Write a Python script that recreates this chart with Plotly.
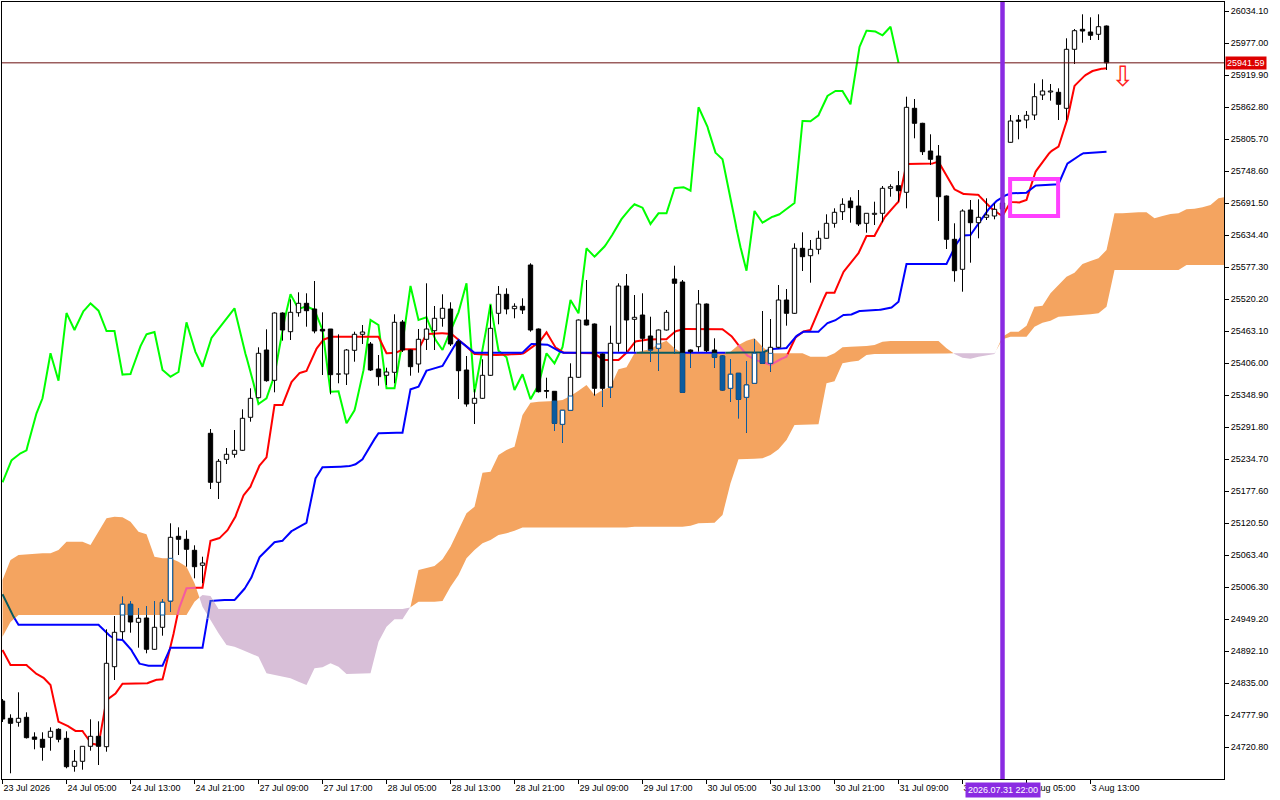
import numpy as np
import plotly.graph_objects as go

# ---- H1 candles (prices) ----
opens = [
    24802.88, 24772.01, 24764.88, 24773.80, 24738.65, 24734.54, 24738.11, 24752.39, 24736.33, 24686.36,
    24695.29, 24722.05, 24739.89, 24721.34, 24864.09, 24926.54, 24975.43, 24943.31, 24950.99, 24895.14,
    24934.39, 24981.32, 25096.77, 25091.42, 25071.79, 25045.02, 25280.56, 25193.13, 25234.17, 25243.09,
    25250.23, 25309.11, 25344.08, 25429.20, 25375.13, 25495.22, 25461.85, 25495.76, 25512.53, 25502.36,
    25466.14, 25466.67, 25387.62, 25386.37, 25428.66, 25457.21, 25439.90, 25395.30, 25384.05, 25389.41,
    25479.16, 25429.20, 25404.22, 25448.29, 25463.64, 25485.76, 25502.36, 25444.01, 25393.51, 25334.09,
    25343.01, 25384.05, 25494.69, 25528.59, 25502.89, 25507.18, 25580.87, 25466.67, 25356.93, 25355.50,
    25296.62, 25321.60, 25380.49, 25482.73, 25475.59, 25422.06, 25362.64, 25441.15, 25543.40, 25483.98,
    25491.65, 25454.18, 25432.23, 25464.89, 25555.89, 25550.54, 25429.20, 25435.09, 25511.28, 25429.20,
    25418.49, 25360.86, 25387.62, 25344.80, 25369.78, 25424.38, 25405.47, 25434.02, 25518.42, 25494.69,
    25610.67, 25597.46, 25608.88, 25628.51, 25655.28, 25675.98, 25695.07, 25686.15, 25655.28, 25671.34,
    25673.12, 25717.73, 25722.37, 25710.59, 25860.48, 25833.72, 25784.29, 25775.37, 25703.99, 25626.73,
    25573.20, 25679.01, 25656.35, 25665.99, 25668.30, 25680.80, 25799.81, 25839.60, 25839.60, 25848.53,
    25884.21, 25889.57, 25889.03, 25860.48, 25965.76, 26001.45, 25996.63, 25992.53, 26007.34]
highs = [
    24806.45, 24779.15, 24818.41, 24782.72, 24747.03, 24747.03, 24755.95, 24754.17, 24748.82, 24715.45,
    24722.05, 24770.23, 24766.66, 24930.82, 24954.55, 24988.99, 24981.32, 24968.83, 24972.40, 24981.32,
    24984.89, 25119.97, 25112.83, 25107.48, 25080.71, 25060.37, 25288.23, 25234.70, 25254.33, 25286.45,
    25323.37, 25360.86, 25434.02, 25466.14, 25496.47, 25496.47, 25519.67, 25532.16, 25530.37, 25552.32,
    25496.47, 25466.67, 25457.21, 25430.98, 25461.85, 25473.81, 25443.47, 25420.28, 25397.62, 25492.90,
    25482.73, 25430.09, 25466.67, 25548.22, 25507.71, 25528.59, 25514.31, 25447.04, 25418.49, 25359.07,
    25412.60, 25509.50, 25543.40, 25539.29, 25512.53, 25521.45, 25583.90, 25467.56, 25379.77, 25356.04,
    25322.14, 25405.47, 25483.62, 25554.10, 25476.48, 25422.95, 25472.56, 25548.22, 25564.81, 25527.34,
    25530.37, 25488.62, 25465.78, 25500.57, 25579.62, 25554.10, 25430.09, 25536.26, 25512.17, 25450.08,
    25419.38, 25413.14, 25388.16, 25409.57, 25448.29, 25498.79, 25484.51, 25545.18, 25538.05, 25619.59,
    25639.22, 25625.48, 25642.08, 25671.34, 25682.05, 25699.89, 25701.67, 25714.70, 25673.66, 25693.82,
    25721.84, 25724.87, 25748.60, 25881.18, 25877.08, 25834.61, 25814.09, 25795.00, 25704.88, 25655.28,
    25680.26, 25696.86, 25698.10, 25699.89, 25690.97, 25700.42, 25848.53, 25848.53, 25855.66, 25905.09,
    25912.23, 25903.84, 25896.17, 25985.39, 26001.98, 26028.21, 26022.86, 26028.21, 26008.23]
lows = [
    24765.41, 24673.87, 24757.02, 24735.97, 24716.70, 24696.35, 24714.20, 24729.19, 24682.80, 24676.73,
    24680.30, 24714.20, 24688.68, 24712.42, 24840.35, 24912.98, 24924.76, 24897.99, 24888.00, 24893.89,
    24919.40, 24962.23, 25063.40, 25042.52, 25021.83, 25012.90, 25181.17, 25163.33, 25225.78, 25237.02,
    25248.98, 25301.26, 25342.66, 25372.63, 25353.72, 25445.79, 25447.04, 25488.62, 25470.78, 25459.00,
    25384.59, 25350.15, 25369.78, 25366.75, 25408.32, 25439.90, 25391.73, 25365.50, 25366.75, 25369.78,
    25425.63, 25383.34, 25388.69, 25429.20, 25429.20, 25470.78, 25436.34, 25341.76, 25328.02, 25297.15,
    25341.76, 25382.80, 25475.06, 25492.90, 25485.76, 25493.44, 25461.85, 25353.36, 25343.01, 25284.66,
    25263.79, 25320.71, 25379.24, 25472.92, 25347.65, 25328.02, 25344.08, 25426.17, 25426.17, 25426.17,
    25426.17, 25408.32, 25392.26, 25463.99, 25423.31, 25352.47, 25397.62, 25426.17, 25425.63, 25397.62,
    25356.57, 25336.95, 25307.31, 25281.63, 25368.89, 25404.22, 25390.48, 25432.23, 25472.56, 25493.44,
    25570.16, 25549.29, 25599.96, 25627.62, 25647.43, 25661.17, 25656.35, 25650.46, 25638.51, 25652.25,
    25657.06, 25702.74, 25693.82, 25682.05, 25806.95, 25777.15, 25759.31, 25659.38, 25609.42, 25551.07,
    25533.23, 25584.98, 25628.51, 25661.17, 25662.42, 25671.87, 25798.92, 25805.17, 25824.79, 25839.60,
    25875.29, 25874.04, 25839.60, 25839.60, 25939.53, 25977.54, 25982.35, 25982.35, 25928.82]
closes = [
    24770.76, 24763.09, 24772.01, 24737.40, 24734.54, 24720.27, 24748.82, 24734.54, 24685.65, 24695.29,
    24722.05, 24739.89, 24722.05, 24870.15, 24925.47, 24975.43, 24943.85, 24950.45, 24895.14, 24934.39,
    24979.00, 25094.97, 25091.42, 25073.57, 25042.52, 25049.13, 25193.13, 25230.60, 25243.09, 25250.23,
    25307.31, 25343.01, 25423.31, 25374.42, 25495.22, 25464.89, 25496.47, 25512.53, 25499.32, 25463.10,
    25463.10, 25385.13, 25386.37, 25429.20, 25457.21, 25461.32, 25393.51, 25381.56, 25389.94, 25478.63,
    25429.20, 25399.40, 25448.29, 25466.67, 25485.76, 25503.61, 25439.90, 25392.26, 25332.84, 25343.01,
    25384.05, 25467.92, 25528.59, 25502.36, 25507.18, 25500.57, 25464.89, 25354.79, 25355.50, 25298.40,
    25321.60, 25380.49, 25482.73, 25473.81, 25360.86, 25360.86, 25441.15, 25543.40, 25482.73, 25487.55,
    25450.08, 25429.20, 25464.89, 25496.47, 25548.22, 25353.72, 25426.17, 25511.28, 25427.95, 25416.17,
    25357.82, 25385.84, 25341.23, 25366.75, 25423.31, 25405.47, 25434.02, 25518.42, 25494.69, 25610.67,
    25595.68, 25608.88, 25628.51, 25655.28, 25674.91, 25689.18, 25683.12, 25654.03, 25673.12, 25673.12,
    25717.73, 25720.59, 25713.45, 25862.27, 25833.72, 25783.04, 25769.48, 25702.74, 25626.73, 25570.70,
    25677.23, 25656.35, 25665.99, 25670.09, 25680.26, 25691.50, 25837.82, 25837.29, 25847.99, 25881.18,
    25891.35, 25891.35, 25867.62, 25965.76, 25998.95, 25998.41, 25990.74, 26006.09, 25941.59]

# ---- Ichimoku lines ----
tenkan = [
    24893.9, 24867.1, 24867.1, 24867.1, 24852.9, 24846.2, 24831.4, 24766.0, 24760.1, 24749.4,
    24749.4, 24727.4, 24724.4, 24804.7, 24813.6, 24833.8, 24833.8, 24833.8, 24833.8, 24840.4,
    24841.6, 24896.9, 24965.3, 25004.0, 25005.1, 25005.1, 25088.9, 25092.0, 25105.0, 25127.1,
    25167.4, 25185.3, 25221.0, 25237.7, 25331.1, 25331.1, 25369.8, 25387.6, 25391.7, 25426.2,
    25447.0, 25452.9, 25452.9, 25452.9, 25452.9, 25452.9, 25452.9, 25452.9, 25423.3, 25423.3,
    25430.5, 25430.5, 25430.5, 25457.8, 25459.0, 25459.0, 25459.0, 25448.3, 25435.1, 25422.1,
    25422.1, 25420.3, 25420.3, 25420.3, 25422.1, 25422.1, 25432.2, 25441.2, 25460.8, 25435.1,
    25424.4, 25424.4, 25424.4, 25424.4, 25423.3, 25411.4, 25411.4, 25411.4, 25423.3, 25444.0,
    25447.0, 25448.3, 25448.3, 25448.3, 25461.9, 25466.7, 25466.7, 25466.7, 25466.7, 25466.7,
    25466.1, 25456.0, 25438.1, 25420.3, 25411.4, 25408.3, 25402.4, 25411.4, 25417.2, 25450.1,
    25461.9, 25464.9, 25500.6, 25531.4, 25531.4, 25566.1, 25585.0, 25601.8, 25632.6, 25632.6,
    25661.2, 25679.0, 25693.8, 25761.1, 25761.1, 25761.1, 25761.1, 25765.2, 25739.7, 25716.0,
    25707.6, 25707.6, 25705.8, 25689.7, 25677.2, 25668.3, 25693.3, 25692.0, 25696.9, 25744.5,
    25765.2, 25783.0, 25792.0, 25833.7, 25900.3, 25915.8, 25925.8, 25930.6, 25931.9]
kijun = [
    24993.3, 24962.2, 24939.0, 24939.0, 24939.0, 24939.0, 24939.0, 24939.0, 24939.0, 24939.0,
    24939.0, 24939.0, 24939.0, 24923.7, 24913.0, 24911.7, 24896.9, 24870.2, 24865.9, 24865.9,
    24865.9, 24898.0, 24898.0, 24898.0, 24898.0, 24898.0, 24981.3, 24983.1, 24983.1, 24983.1,
    24997.9, 25018.8, 25057.5, 25072.3, 25086.1, 25088.9, 25105.0, 25112.1, 25121.0, 25197.2,
    25219.9, 25221.0, 25221.0, 25221.0, 25224.0, 25234.2, 25259.7, 25280.6, 25281.6, 25281.6,
    25281.6, 25359.1, 25363.7, 25392.3, 25396.5, 25400.7, 25426.2, 25447.0, 25435.1, 25424.4,
    25424.4, 25424.4, 25424.4, 25424.4, 25424.4, 25424.4, 25439.9, 25439.9, 25439.9, 25431.0,
    25424.4, 25424.4, 25424.4, 25424.4, 25424.4, 25424.4, 25424.4, 25424.4, 25424.4, 25424.4,
    25424.4, 25424.4, 25424.4, 25424.4, 25424.4, 25424.4, 25424.4, 25424.4, 25424.4, 25424.4,
    25424.4, 25424.4, 25424.4, 25424.4, 25424.4, 25424.4, 25431.0, 25431.0, 25432.8, 25451.5,
    25461.9, 25461.9, 25461.9, 25476.8, 25481.0, 25491.7, 25491.7, 25498.8, 25499.3, 25499.3,
    25501.8, 25503.6, 25515.4, 25582.7, 25582.7, 25582.7, 25582.7, 25582.7, 25582.7, 25613.5,
    25633.5, 25634.4, 25655.5, 25676.0, 25692.4, 25702.7, 25708.8, 25708.8, 25709.9, 25722.4,
    25723.6, 25724.9, 25724.9, 25761.1, 25769.5, 25780.2, 25781.3, 25782.0, 25783.0]
# Senkou spans (already shifted 26 bars forward, so they run past the last candle)
span_a = [
    25018.8, 25054.5, 25063.4, 25064.7, 25065.2, 25066.4, 25066.4, 25072.3, 25087.1, 25087.1,
    25087.1, 25081.3, 25105.0, 25128.9, 25131.7, 25130.7, 25122.8, 25105.0, 25100.3, 25060.4,
    25057.5, 25057.5, 25051.5, 25042.5, 25012.9, 24971.2, 24947.4, 24923.7, 24902.8, 24899.8,
    24893.9, 24888.0, 24881.9, 24852.3, 24849.3, 24846.2, 24843.4, 24837.3, 24831.4, 24861.2,
    24863.0, 24870.2, 24864.1, 24851.1, 24851.1, 24852.3, 24852.3, 24908.7, 24935.5, 24948.7,
    24948.7, 24971.2, 25036.6, 25039.7, 25043.8, 25055.7, 25078.2, 25108.0, 25137.8, 25149.6,
    25210.3, 25212.0, 25241.8, 25250.8, 25256.7, 25313.2, 25335.2, 25337.0, 25337.0, 25338.2,
    25340.0, 25347.1, 25356.6, 25366.8, 25348.9, 25357.8, 25363.7, 25394.8, 25398.3, 25423.3,
    25428.0, 25430.5, 25439.9, 25445.8, 25432.2, 25423.3, 25423.3, 25423.3, 25423.3, 25423.3,
    25423.3, 25426.2, 25438.1, 25445.8, 25450.1, 25435.1, 25423.3, 25423.3, 25423.3, 25423.3,
    25423.3, 25417.2, 25417.2, 25417.2, 25423.3, 25434.0, 25435.1, 25435.1, 25436.3, 25438.1,
    25444.0, 25445.3, 25445.3, 25445.3, 25445.3, 25445.3, 25445.3, 25445.3, 25432.2, 25422.1,
    25415.5, 25413.7, 25417.2, 25420.3, 25422.1, 25452.9, 25461.9, 25461.9, 25472.6, 25506.5,
    25508.3, 25530.4, 25545.2, 25560.0, 25567.1, 25582.7, 25588.0, 25592.8, 25607.6, 25673.1,
    25673.1, 25674.2, 25674.9, 25674.9, 25664.2, 25668.3, 25671.9, 25673.1, 25680.3, 25681.3,
    25683.8, 25687.9, 25699.9, 25702.7]
span_b = [
    24917.6, 24943.9, 24956.3, 24956.3, 24956.3, 24956.3, 24956.3, 24956.3, 24956.3, 24956.3,
    24956.3, 24956.3, 24956.3, 24956.3, 24956.3, 24956.3, 24956.3, 24956.3, 24956.3, 24956.3,
    24956.3, 24956.3, 24956.3, 24956.3, 24980.1, 24992.0, 24990.2, 24967.1, 24967.1, 24967.1,
    24967.1, 24967.1, 24967.1, 24967.1, 24967.1, 24967.1, 24967.1, 24967.1, 24967.1, 24967.1,
    24967.1, 24967.1, 24967.1, 24967.1, 24967.1, 24967.1, 24967.1, 24967.1, 24967.1, 24967.1,
    24967.1, 24970.1, 24980.1, 24980.1, 24980.1, 24981.3, 25006.8, 25027.7, 25057.5, 25072.3,
    25084.3, 25090.2, 25099.1, 25102.1, 25106.8, 25112.5, 25112.5, 25112.5, 25112.5, 25112.5,
    25112.5, 25112.5, 25112.5, 25112.5, 25112.5, 25112.5, 25112.5, 25112.5, 25112.5, 25113.9,
    25113.9, 25113.9, 25113.9, 25113.9, 25113.9, 25113.9, 25115.7, 25120.0, 25120.0, 25121.0,
    25134.8, 25191.3, 25234.2, 25234.7, 25235.2, 25236.0, 25241.8, 25252.0, 25268.6, 25295.4,
    25295.9, 25295.9, 25296.6, 25369.8, 25373.4, 25405.5, 25408.3, 25410.1, 25420.3, 25422.1,
    25423.0, 25423.0, 25423.0, 25423.0, 25423.0, 25423.0, 25423.0, 25423.0, 25423.0, 25423.3,
    25423.3, 25423.3, 25423.3, 25423.3, 25423.3, 25448.3, 25452.9, 25452.9, 25452.9, 25470.8,
    25477.9, 25481.5, 25488.6, 25489.9, 25490.4, 25491.7, 25492.9, 25494.7, 25506.5, 25572.0,
    25572.0, 25572.0, 25572.0, 25572.0, 25572.0, 25572.0, 25572.0, 25572.0, 25580.9, 25580.9,
    25580.9, 25580.9, 25580.9, 25580.9]

# ---- axes ----
x_tick_bars = [0, 8, 16, 24, 32, 40, 48, 56, 64, 72, 80, 88, 96, 104, 112, 120, 128, 136]
x_tick_text = ["23 Jul 2026", "24 Jul 05:00", "24 Jul 13:00", "24 Jul 21:00", "27 Jul 09:00",
               "27 Jul 17:00", "28 Jul 05:00", "28 Jul 13:00", "28 Jul 21:00", "29 Jul 09:00",
               "29 Jul 17:00", "30 Jul 05:00", "30 Jul 13:00", "30 Jul 21:00", "31 Jul 09:00",
               "31 Jul 17:00", "3 Aug 05:00", "3 Aug 13:00"]
y_ticks = [24720.80, 24777.90, 24835.00, 24892.10, 24949.20, 25006.30, 25063.40, 25120.50,
           25177.60, 25234.70, 25291.80, 25348.90, 25406.00, 25463.10, 25520.20, 25577.30,
           25634.40, 25691.50, 25748.60, 25805.70, 25862.80, 25919.90, 25977.00, 26034.10]

bid = 25941.59
vline_bar = 125
vline_label = "2026.07.31 22:00"
box_bars = (125.95, 131.95)
box_prices = (25668.3, 25734.3)
signal_bar, signal_price = 140, 25918.0

# ---- styling ----
ORANGE = (244, 164, 96)
THISTLE = (216, 191, 216)
BLACK, RED, BLUE, LIME = (0, 0, 0), (255, 0, 0), (0, 0, 255), (0, 255, 0)
FONT = "Liberation Sans"
HALF = 0.27       # half body width, in bars
MIN_BODY = 1.2    # doji thickness, in price


def hexc(rgb):
    return "#%02X%02X%02X" % rgb


def pen_over(rgb, cloud):
    # MT5 paints the cloud with a NOT-XOR pen, so whatever lies under it changes colour
    return hexc(tuple(255 - (p ^ q) for p, q in zip(rgb, cloud)))


span_x = np.arange(len(span_a), dtype=float)
sa = np.array(span_a)
sb = np.array(span_b)


def cloud_state(x, y):
    a = np.interp(x, span_x, sa)
    b = np.interp(x, span_x, sb)
    inside = (y >= np.minimum(a, b)) & (y <= np.maximum(a, b))
    return np.where(inside, np.where(a >= b, 1, 2), 0)


def cloud_runs():
    runs = []
    up = sa[0] >= sb[0]
    cur = ([span_x[0]], [sa[0]], [sb[0]], up)
    for i in range(1, len(span_x)):
        up_i = sa[i] >= sb[i]
        if up_i != cur[3]:
            d0, d1 = sa[i - 1] - sb[i - 1], sa[i] - sb[i]
            t = d0 / (d0 - d1)
            cx = span_x[i - 1] + t
            cy = sa[i - 1] + t * (sa[i] - sa[i - 1])
            cur[0].append(cx); cur[1].append(cy); cur[2].append(cy)
            runs.append(cur)
            cur = ([cx], [cy], [cy], up_i)
        cur[0].append(span_x[i]); cur[1].append(sa[i]); cur[2].append(sb[i])
    runs.append(cur)
    return runs


def split_line(xs, ys, steps=8):
    xs = np.asarray(xs, dtype=float)
    fx = np.linspace(xs[0], xs[-1], (len(xs) - 1) * steps + 1)
    fy = np.interp(fx, xs, ys)
    state = cloud_state((fx[:-1] + fx[1:]) / 2, (fy[:-1] + fy[1:]) / 2)
    out = {0: ([], []), 1: ([], []), 2: ([], [])}
    start = 0
    for j in range(1, len(state) + 1):
        if j == len(state) or state[j] != state[start]:
            s = int(state[start])
            out[s][0].extend(fx[start:j + 1].tolist() + [None])
            out[s][1].extend(fy[start:j + 1].tolist() + [None])
            start = j
    return out


fig = go.Figure()

# cloud
for xs, a, b, up in cloud_runs():
    col = hexc(ORANGE if up else THISTLE)
    fig.add_trace(go.Scatter(x=xs + xs[::-1], y=a + b[::-1], fill="toself", fillcolor=col,
                             mode="lines", line=dict(width=0, color=col), hoverinfo="skip"))

# chikou span = close plotted 26 bars back
bars = np.arange(len(closes))
lines = [(bars[:-26], closes[26:], LIME), (bars, tenkan, RED), (bars, kijun, BLUE)]
for xs, ys, rgb in lines:
    parts = split_line(xs, ys)
    for s, col in ((0, hexc(rgb)), (1, pen_over(rgb, ORANGE)), (2, pen_over(rgb, THISTLE))):
        if parts[s][0]:
            fig.add_trace(go.Scatter(x=parts[s][0], y=parts[s][1], mode="lines",
                                     line=dict(color=col, width=2), hoverinfo="skip"))

# candles
wicks = {k: ([], []) for k in (0, 1, 2)}
bodies = {(k, bull): ([], []) for k in (0, 1, 2) for bull in (True, False)}


def add_box(store, x, y0, y1):
    store[0].extend([x - HALF, x + HALF, x + HALF, x - HALF, x - HALF, None])
    store[1].extend([y0, y0, y1, y1, y0, None])


for i, (o, h, l, c) in enumerate(zip(opens, highs, lows, closes)):
    bull = c >= o
    b_lo, b_hi = min(o, c), max(o, c)
    if b_hi - b_lo < MIN_BODY:
        m = (b_lo + b_hi) / 2
        b_lo, b_hi = m - MIN_BODY / 2, m + MIN_BODY / 2
    c_lo, c_hi = min(span_a[i], span_b[i]), max(span_a[i], span_b[i])
    kind = 1 if span_a[i] >= span_b[i] else 2
    for w0, w1 in ((l, b_lo), (b_hi, h)):
        if w1 > w0:
            wicks[0][0].extend([i, i, None]); wicks[0][1].extend([w0, w1, None])
            s0, s1 = max(w0, c_lo), min(w1, c_hi)
            if s1 > s0:
                wicks[kind][0].extend([i, i, None]); wicks[kind][1].extend([s0, s1, None])
    add_box(bodies[(0, bull)], i, b_lo, b_hi)
    s0, s1 = max(b_lo, c_lo), min(b_hi, c_hi)
    if s1 > s0:
        add_box(bodies[(kind, bull)], i, s0, s1)

for k, cloud in ((0, None), (1, ORANGE), (2, THISTLE)):
    ink = hexc(BLACK) if cloud is None else pen_over(BLACK, cloud)
    if wicks[k][0]:
        fig.add_trace(go.Scatter(x=wicks[k][0], y=wicks[k][1], mode="lines",
                                 line=dict(color=ink, width=1), hoverinfo="skip"))
    for bull in (True, False):
        xs, ys = bodies[(k, bull)]
        if xs:
            fig.add_trace(go.Scatter(x=xs, y=ys, mode="lines", fill="toself",
                                     fillcolor="white" if bull else ink,
                                     line=dict(color=ink, width=1), hoverinfo="skip"))

fig.add_shape(type="line", xref="paper", x0=0, x1=1, y0=bid, y1=bid,
              line=dict(color="#6B0F0F", width=1))
fig.add_shape(type="line", x0=vline_bar, x1=vline_bar, yref="paper", y0=0, y1=1,
              line=dict(color="#8A2BE2", width=4.5))
fig.add_shape(type="rect", x0=box_bars[0], x1=box_bars[1], y0=box_prices[0], y1=box_prices[1],
              line=dict(color="#FF40FF", width=4))

fig.add_annotation(x=1, xref="paper", xanchor="left", xshift=1, y=bid, yref="y", text=f"{bid:.2f}",
                   showarrow=False, bgcolor="#DD0000", borderpad=1,
                   font=dict(family=FONT, size=9, color="white"))
fig.add_annotation(x=vline_bar, y=0, yref="paper", yanchor="top", yshift=-3, text=vline_label,
                   showarrow=False, bgcolor="#8A2BE2", borderpad=2,
                   font=dict(family=FONT, size=9, color="white"))
fig.add_annotation(x=signal_bar, y=signal_price, text="\u21e9", showarrow=False,
                   font=dict(family="DejaVu Sans", size=28, color="#FF2020"))

fig.update_layout(
    width=1280, height=800, margin=dict(l=2, r=56, t=2, b=21),
    plot_bgcolor="white", paper_bgcolor="white", showlegend=False,
    xaxis=dict(range=[-0.0625, 152.6875], tickvals=x_tick_bars, ticktext=x_tick_text,
               ticks="outside", ticklen=4, tickcolor="black", ticklabelposition="outside right",
               showgrid=False, zeroline=False, showline=True, linecolor="black", mirror=True,
               tickfont=dict(family=FONT, size=9, color="black")),
    yaxis=dict(side="right", range=[24663.70, 26050.16], tickvals=y_ticks,
               ticktext=[f"{v:.2f}" for v in y_ticks], ticks="outside", ticklen=4,
               tickcolor="black", showgrid=False, zeroline=False, showline=True,
               linecolor="black", mirror=True, tickfont=dict(family=FONT, size=9, color="black")),
)

# the page's default 8px body margin would push the chart off the 1280x800 window
fig.write_html("out.html", config={"displayModeBar": False},
               post_script="document.body.style.margin='0';")
